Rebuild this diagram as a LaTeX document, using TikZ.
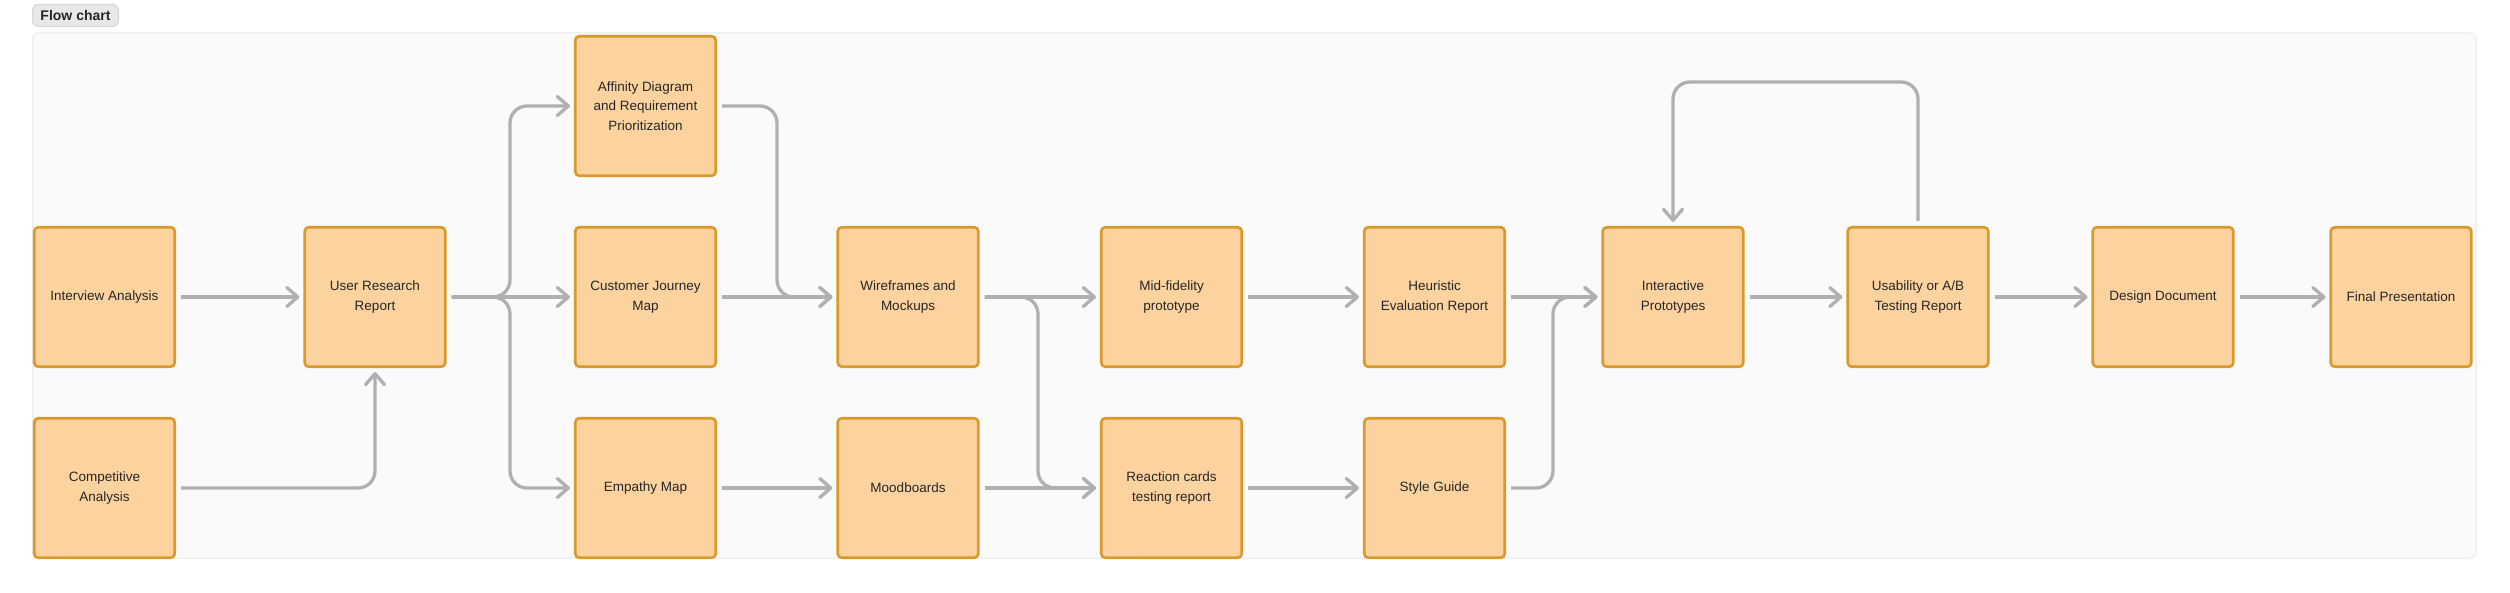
\documentclass[tikz,border=0pt]{standalone}
\usepackage{fontspec}
\setmainfont{Liberation Sans}
\usetikzlibrary{arrows.meta}
\definecolor{boxfill}{HTML}{FCD39F}
\definecolor{boxdraw}{HTML}{D99A2B}
\definecolor{arr}{HTML}{B0B0B0}
\definecolor{panelfill}{HTML}{FAFAFA}
\definecolor{paneldraw}{HTML}{EAEAEA}
\definecolor{tagfill}{HTML}{E8E8E8}
\definecolor{tagdraw}{HTML}{D6D6D6}
\definecolor{txt}{HTML}{262626}
\begin{document}
\begin{tikzpicture}[x=1pt,y=-1pt,
  stepbox/.style={draw=boxdraw, fill=boxfill, line width=2.6pt, rounded corners=4pt,
    minimum width=140.5pt, minimum height=139.5pt, inner sep=0pt, align=center,
    text=txt, font=\fontsize{13.5}{19.6}\selectfont},
  flow/.style={draw=arr, line width=3.3pt,
    -{Straight Barb[length=11pt,width=19pt,line cap=round,line join=round]},
    shorten <=5pt, shorten >=4pt, rounded corners=17pt},
  tagbox/.style={draw=tagdraw, fill=tagfill, line width=1pt, rounded corners=6pt,
    minimum width=86pt, minimum height=22pt, inner sep=0pt, text=txt,
    font=\fontsize{14}{16}\selectfont\bfseries},
  panelbg/.style={draw=paneldraw, fill=panelfill, line width=1pt, rounded corners=6pt}
]
\useasboundingbox (0,0) rectangle (2510,593);
\fill[white] (0,0) rectangle (2510,593);
\draw[panelbg] (32.5,33) rectangle (2476,558);
\node[tagbox] (tag) at (75.5,15.5) {Flow chart};

% boxes
\node[stepbox] (ia)  at (104.5,297) {Interview Analysis};
\node[stepbox] (ca)  at (104.5,488) {Competitive\\Analysis};
\node[stepbox] (urr) at (375,297)   {User Research\\Report};
\node[stepbox] (aff) at (645.5,106) {Affinity Diagram\\and Requirement\\Prioritization};
\node[stepbox] (cjm) at (645.5,297) {Customer Journey\\Map};
\node[stepbox] (emp) at (645.5,488) {Empathy Map};
\node[stepbox] (wf)  at (908,297)   {Wireframes and\\Mockups};
\node[stepbox] (mb)  at (908,488)   {Moodboards};
\node[stepbox] (mf)  at (1171.5,297){Mid-fidelity\\prototype};
\node[stepbox] (rc)  at (1171.5,488){Reaction cards\\testing report};
\node[stepbox] (he)  at (1434.5,297){Heuristic\\Evaluation Report};
\node[stepbox] (sg)  at (1434.5,488){Style Guide};
\node[stepbox] (ip)  at (1673,297)  {Interactive\\Prototypes};
\node[stepbox] (ut)  at (1918,297)  {Usability or A/B\\Testing Report};
\node[stepbox] (dd)  at (2163,297)  {Design Document};
\node[stepbox] (fp)  at (2401,297)  {Final Presentation};

% junction coordinates
\coordinate (j1) at (510,297);
\coordinate (j2) at (777,297);
\coordinate (j3) at (1038,488);
\coordinate (j4) at (1553,297);
\coordinate (loop) at (1800,82);

% connectors
\draw[flow] (ia) -- (urr);
\draw[flow] (ca.east) -| (urr.south);
\draw[flow] (urr.east) -- (j1) |- (aff.west);
\draw[flow] (urr) -- (cjm);
\draw[flow] (urr.east) -- (j1) |- (emp.west);
\draw[flow] (aff.east) -| (j2) -- (wf.west);
\draw[flow] (cjm) -- (wf);
\draw[flow] (emp) -- (mb);
\draw[flow] (wf) -- (mf);
\draw[flow] (wf.east) -| (j3) -- (rc.west);
\draw[flow] (mb) -- (rc);
\draw[flow] (mf) -- (he);
\draw[flow] (rc) -- (sg);
\draw[flow] (he) -- (ip);
\draw[flow] (sg.east) -| (j4) -- (ip.west);
\draw[flow] (ip) -- (ut);
\draw[flow] (ut) -- (dd);
\draw[flow] (dd) -- (fp);
\draw[flow] (ut.north) |- (loop) -| (ip.north);
\end{tikzpicture}
\end{document}
